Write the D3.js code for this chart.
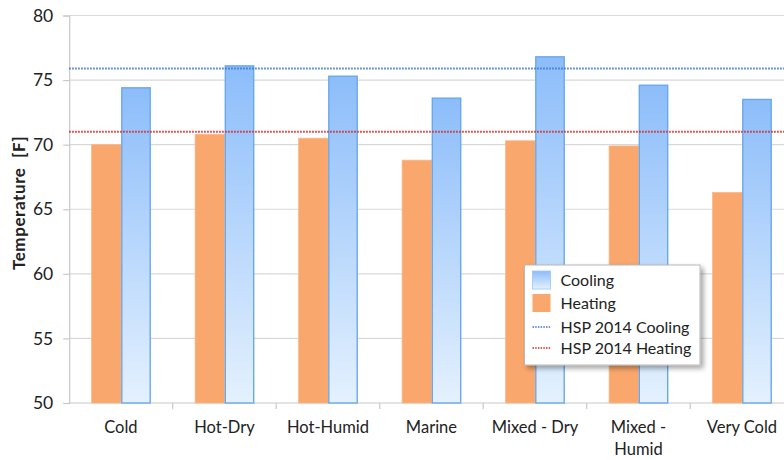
<!DOCTYPE html>
<html lang="en">
<head>
<meta charset="utf-8">
<title>Temperature by climate</title>
<script src="https://d3js.org/d3.v7.min.js"></script>
<style>
  body { margin: 0; background: #fff; }
  svg text { font-family: Lato, "Open Sans", sans-serif; fill: #222; }
</style>
</head>
<body>
<div id="chart"></div>
<script>
var categories = ["Cold", "Hot-Dry", "Hot-Humid", "Marine", "Mixed - Dry", "Mixed - Humid", "Very Cold"];
var heating = [70.0, 70.8, 70.5, 68.8, 70.3, 69.9, 66.3];
var cooling = [74.4, 76.1, 75.3, 73.6, 76.8, 74.6, 73.5];
var hspCooling = 75.9;
var hspHeating = 71.0;
var yTicks = [50, 55, 60, 65, 70, 75, 80];

var width = 784, height = 460,
    margin = { top: 15.5, left: 69.2, bottom: 57 };

var svg = d3.select("#chart").append("svg")
    .attr("width", width).attr("height", height);

var defs = svg.append("defs");
var grad = defs.append("linearGradient").attr("id", "coolGrad")
    .attr("x1", 0).attr("y1", 0).attr("x2", 0).attr("y2", 1);
grad.append("stop").attr("offset", "0%").attr("stop-color", "#8cbdfa");
grad.append("stop").attr("offset", "100%").attr("stop-color", "#e4f1fe");

var shadow = defs.append("filter").attr("id", "shadow")
    .attr("x", "-10%").attr("y", "-10%").attr("width", "130%").attr("height", "140%");
shadow.append("feDropShadow").attr("dx", 3).attr("dy", 3)
    .attr("stdDeviation", 2.5).attr("flood-color", "#000").attr("flood-opacity", 0.35);

var x0 = d3.scaleBand()
    .domain(categories)
    .range([margin.left, margin.left + 7 * 103.5]);

var x1 = d3.scaleBand()
    .domain(["Heating", "Cooling"])
    .range([22.4, 81.6]);

var y = d3.scaleLinear()
    .domain([50, 80])
    .range([height - margin.bottom, margin.top]);

// grid lines
svg.append("g").selectAll("line")
    .data(yTicks.slice(1))
    .join("line")
    .attr("x1", margin.left).attr("x2", width)
    .attr("y1", d => y(d)).attr("y2", d => y(d))
    .attr("stroke", "#d9d9d9").attr("stroke-width", 1.2);

// y axis
var yAxis = d3.axisLeft(y).tickValues(yTicks).tickSize(6).tickPadding(10);
var yG = svg.append("g")
    .attr("transform", `translate(${margin.left},0)`)
    .call(yAxis);
yG.select(".domain").attr("stroke", "#c8c8c8").attr("stroke-width", 1.2);
yG.selectAll(".tick line").attr("stroke", "#c8c8c8").attr("stroke-width", 1.2);
yG.selectAll(".tick text").style("font-size", "17.5px").attr("fill", "#222");

// x axis
var xG = svg.append("g")
    .attr("transform", `translate(0,${y(50)})`);
xG.append("line")
    .attr("x1", margin.left).attr("x2", width)
    .attr("stroke", "#c8c8c8").attr("stroke-width", 1.2);
xG.selectAll("line.tk")
    .data(categories)
    .join("line").attr("class", "tk")
    .attr("x1", d => x0(d) + x0.bandwidth()).attr("x2", d => x0(d) + x0.bandwidth())
    .attr("y1", 0).attr("y2", 6)
    .attr("stroke", "#c8c8c8").attr("stroke-width", 1.2);

var labels = xG.selectAll("text")
    .data(categories)
    .join("text")
    .attr("text-anchor", "middle")
    .style("font-size", "16.5px")
    .attr("x", d => x0(d) + x0.bandwidth() / 2)
    .attr("y", 30);
labels.each(function (d) {
  var t = d3.select(this);
  var cx = x0(d) + x0.bandwidth() / 2;
  if (d === "Mixed - Humid") {
    t.append("tspan").attr("x", cx).attr("dy", 0).text("Mixed -");
    t.append("tspan").attr("x", cx).attr("dy", 22).text("Humid");
  } else {
    t.text(d);
  }
});

// bars
var bars = svg.append("g");
bars.selectAll("rect.heat")
    .data(categories)
    .join("rect").attr("class", "heat")
    .attr("x", d => x0(d) + x1("Heating"))
    .attr("width", x1.bandwidth())
    .attr("y", (d, i) => y(heating[i]))
    .attr("height", (d, i) => y(50) - y(heating[i]))
    .attr("fill", "#f9a76c")
    .attr("stroke", "#fbb886").attr("stroke-width", 0.8);

bars.selectAll("rect.cool")
    .data(categories)
    .join("rect").attr("class", "cool")
    .attr("x", d => x0(d) + x1("Cooling") + 0.6)
    .attr("width", x1.bandwidth() - 1.2)
    .attr("y", (d, i) => y(cooling[i]))
    .attr("height", (d, i) => y(50) - y(cooling[i]))
    .attr("fill", "url(#coolGrad)")
    .attr("stroke", "#6aa8ec").attr("stroke-width", 1.4);

// reference lines
svg.append("line")
    .attr("x1", margin.left).attr("x2", width)
    .attr("y1", y(hspCooling)).attr("y2", y(hspCooling))
    .attr("stroke", "#3d77cf").attr("stroke-width", 2)
    .attr("stroke-dasharray", "1.5,1.5");
svg.append("line")
    .attr("x1", margin.left).attr("x2", width)
    .attr("y1", y(hspHeating)).attr("y2", y(hspHeating))
    .attr("stroke", "#d42a2a").attr("stroke-width", 2)
    .attr("stroke-dasharray", "1.5,1.5");

// y title
svg.append("text")
    .attr("transform", "translate(25,203) rotate(-90)")
    .attr("text-anchor", "middle")
    .style("font-size", "17px")
    .style("font-weight", "bold")
    .style("letter-spacing", "0.6px")
    .style("white-space", "pre")
    .text("Temperature  [F]");

// legend
var legendItems = ["Cooling", "Heating", "HSP 2014 Cooling", "HSP 2014 Heating"];
var lg = svg.append("g").attr("transform", "translate(524.5,265)");
lg.append("rect")
    .attr("width", 175.5).attr("height", 100)
    .attr("fill", "#fff").attr("stroke", "#b8b8b8").attr("stroke-width", 1)
    .attr("filter", "url(#shadow)");
var li = lg.selectAll("g.item")
    .data(legendItems)
    .join("g").attr("class", "item")
    .attr("transform", (d, i) => `translate(0,${[15, 38, 62, 83][i]})`);
li.filter((d, i) => i === 0).append("rect")
    .attr("x", 8).attr("y", -9).attr("width", 18).attr("height", 18)
    .attr("fill", "url(#coolGrad)").attr("stroke", "#9cc6f4").attr("stroke-width", 0.8);
li.filter((d, i) => i === 1).append("rect")
    .attr("x", 8).attr("y", -9).attr("width", 18).attr("height", 18)
    .attr("fill", "#f9a76c");
li.filter((d, i) => i >= 2).append("line")
    .attr("x1", 8).attr("x2", 26)
    .attr("stroke", (d, i) => i === 0 ? "#3d77cf" : "#d42a2a")
    .attr("stroke-width", 1.6).attr("stroke-dasharray", "1.5,1.2");
li.append("text")
    .attr("x", 36).attr("y", 6)
    .style("font-size", "16px")
    .text(d => d);
</script>
</body>
</html>
